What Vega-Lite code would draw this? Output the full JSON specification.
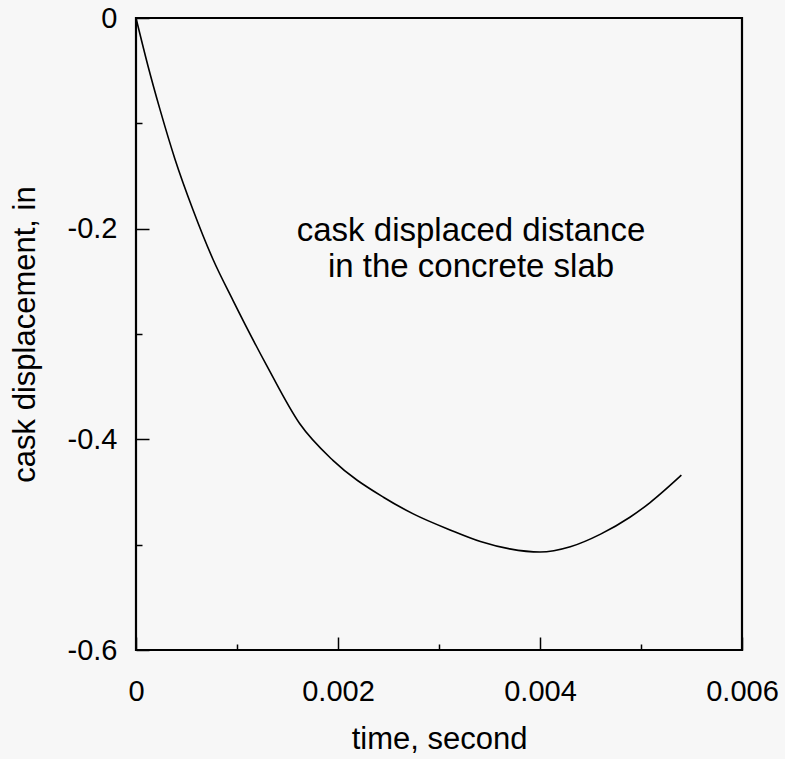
{
  "$schema": "https://vega.github.io/schema/vega-lite/v6.json",
  "width": 606,
  "height": 632,
  "autosize": {"type": "none"},
  "padding": {"left": 136, "top": 18, "right": 43, "bottom": 109},
  "background": "#f7f7f7",
  "config": {
    "view": {"stroke": "#000", "strokeWidth": 2.2},
    "font": "Liberation Sans"
  },
  "layer": [
    {
      "data": {
        "values": [
          {"t": 0, "d": 0},
          {"t": 0.00012, "d": -0.046},
          {"t": 0.000238, "d": -0.087},
          {"t": 0.000386, "d": -0.134},
          {"t": 0.000564, "d": -0.182},
          {"t": 0.000762, "d": -0.229},
          {"t": 0.00096, "d": -0.268},
          {"t": 0.0013, "d": -0.331},
          {"t": 0.00162, "d": -0.385},
          {"t": 0.00195, "d": -0.420},
          {"t": 0.00245, "d": -0.455},
          {"t": 0.00275, "d": -0.471},
          {"t": 0.00311, "d": -0.486},
          {"t": 0.00341, "d": -0.497},
          {"t": 0.0037, "d": -0.504},
          {"t": 0.004, "d": -0.507},
          {"t": 0.0043, "d": -0.502},
          {"t": 0.0046, "d": -0.490},
          {"t": 0.00489, "d": -0.474},
          {"t": 0.00509, "d": -0.460},
          {"t": 0.0054, "d": -0.434}
        ]
      },
      "mark": {"type": "line", "color": "#000", "strokeWidth": 1.6, "interpolate": "monotone"},
      "encoding": {
        "x": {
          "field": "t",
          "type": "quantitative",
          "scale": {"domain": [0, 0.006], "nice": false, "zero": false},
          "axis": {
            "values": [0, 0.001, 0.002, 0.003, 0.004, 0.005, 0.006],
            "labelExpr": "round(datum.value*1000) % 2 === 0 ? (datum.value === 0 ? '0' : format(datum.value, '.3f')) : ''",
            "tickSize": {"condition": {"test": "round(datum.value*1000) % 2 === 0", "value": -13}, "value": -6},
            "tickColor": "#000",
            "tickWidth": 1.5,
            "domain": false,
            "grid": false,
            "labelFontSize": 29,
            "labelColor": "#000",
            "labelPadding": 40,
            "labelFlush": false,
            "labelOverlap": false,
            "title": "time, second",
            "titleFontSize": 31,
            "titleFontWeight": "normal",
            "titleColor": "#000",
            "titlePadding": 11
          }
        },
        "y": {
          "field": "d",
          "type": "quantitative",
          "scale": {"domain": [-0.6, 0], "nice": false, "zero": false},
          "axis": {
            "values": [0, -0.1, -0.2, -0.3, -0.4, -0.5, -0.6],
            "labelExpr": "round(abs(datum.value)*10) % 2 === 0 ? (datum.value === 0 ? '0' : '-' + format(abs(datum.value), '.1f')) : ''",
            "tickSize": {"condition": {"test": "round(abs(datum.value)*10) % 2 === 0", "value": -13}, "value": -6},
            "tickColor": "#000",
            "tickWidth": 1.5,
            "domain": false,
            "grid": false,
            "labelFontSize": 29,
            "labelColor": "#000",
            "labelPadding": 32,
            "labelFlush": false,
            "labelOverlap": false,
            "title": "cask displacement, in",
            "titleFontSize": 31,
            "titleFontWeight": "normal",
            "titleColor": "#000",
            "titlePadding": 26
          }
        }
      }
    },
    {
      "data": {
        "values": [
          {"t": 0.003317, "d": -0.2118, "label": "cask displaced distance\nin the concrete slab"}
        ]
      },
      "mark": {
        "type": "text",
        "lineBreak": "\n",
        "fontSize": 33,
        "lineHeight": 36,
        "align": "center",
        "baseline": "alphabetic",
        "color": "#000"
      },
      "encoding": {
        "x": {"field": "t", "type": "quantitative"},
        "y": {"field": "d", "type": "quantitative"},
        "text": {"field": "label"}
      }
    }
  ]
}
